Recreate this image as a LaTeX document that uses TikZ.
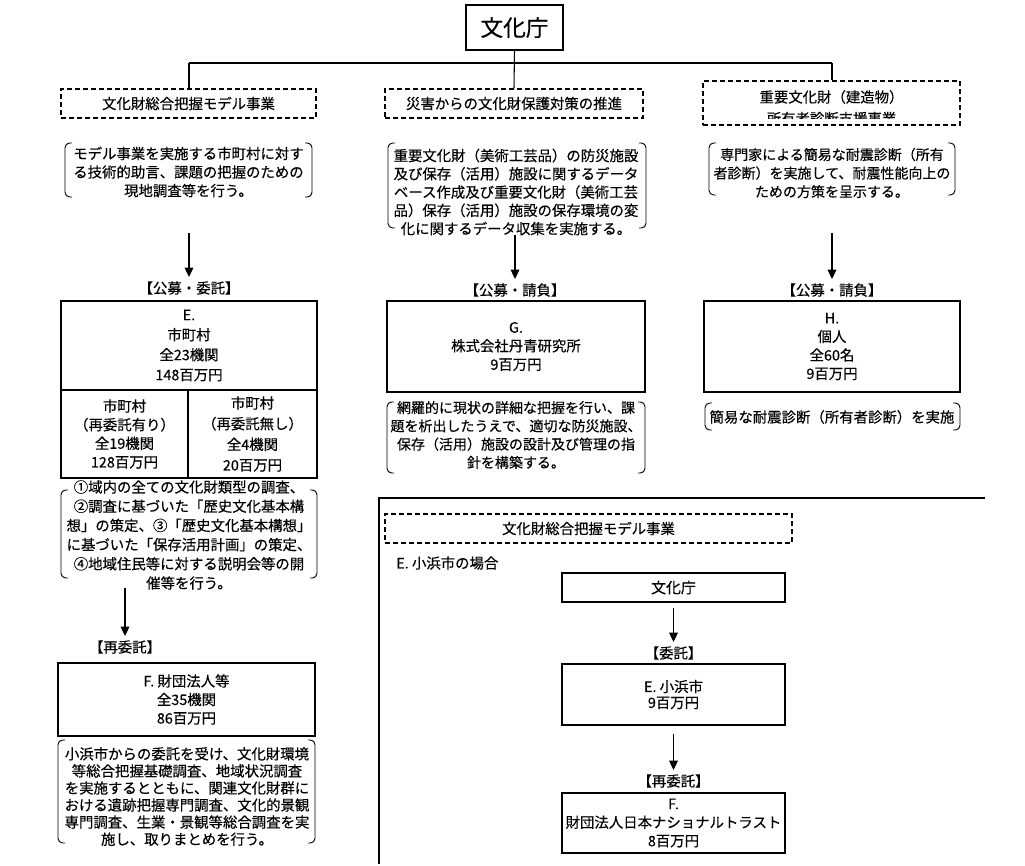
\documentclass[tikz,border=0pt]{standalone}
\usepackage{fontspec}
\setmainfont{Noto Sans CJK JP}[FakeBold=0.35]
\usetikzlibrary{arrows.meta,fit}
\newcommand\brpair[4]{%
  \draw[brk] (#1+7,#2) -- (#1,#2) -- (#1,#4) -- (#1+7,#4);
  \draw[brk] (#3-7,#2) -- (#3,#2) -- (#3,#4) -- (#3-7,#4);}
\begin{document}
\begin{tikzpicture}[x=0.75pt,y=-0.75pt,
  every node/.style={font=\fontsize{10.8}{13.9}\selectfont, align=center, inner sep=0pt},
  solidbox/.style={draw, line width=0.9pt, inner sep=0pt},
  dashbox/.style={draw, line width=0.9pt, dash pattern=on 3.5pt off 2.5pt, inner sep=0pt},
  conn/.style={line width=0.8pt},
  arr/.style={line width=0.8pt, -{Triangle[length=7pt,width=6.5pt]}},
  brk/.style={line width=0.7pt, rounded corners=3.5pt},
]
\useasboundingbox (0,0) rectangle (1025,866);

% ---- top
\node[solidbox, fit={(466,5)(563,50)}] (bunka) {};
\node[font=\fontsize{17}{18}\selectfont] (bunkaT) at (bunka.center) {文化庁};
\coordinate (hl) at (189,63);
\coordinate (hr) at (832,63);
\draw[line width=1.5pt] (hl) -- (hr);

\node[dashbox, fit={(61,89)(316,118)}] (d1) {};
\node (d1T) at (d1.center) {文化財総合把握モデル事業};
\node[dashbox, fit={(385,89)(643,118)}] (d2) {};
\node (d2T) at (d2.center) {災害からの文化財保護対策の推進};
\node[dashbox, fit={(703,81)(960,125)}] (d3) {};
\node (d3a) at (831.5,97) {重要文化財（建造物）};
\begin{scope}
  \clip (703,81) rectangle (960,119);
  \node (d3b) at (831.5,118.5) {所有者診断支援事業};
\end{scope}

\draw[conn] (bunka.south) -- (d2.north);
\draw[conn] (hl) -- (hl |- d1.north);
\draw[conn] (hr) -- (hr |- d3.north);

% ---- descriptions
\node (t1) at (188.5,172) {モデル事業を実施する市町村に対す\\る技術的助言、課題の把握のための\\現地調査等を行う。};
\brpair{65}{143}{312}{197}
\node[font=\fontsize{10.8}{13.7}\selectfont] (t2) at (516,192) {重要文化財（美術工芸品）の防災施設\\及び保存（活用）施設に関するデータ\\ベース作成及び重要文化財（美術工芸\\品）保存（活用）施設の保存環境の変\\化に関するデータ収集を実施する。};
\brpair{388}{143}{646}{228}
\node[font=\fontsize{10.5}{13.9}\selectfont] (t3) at (832,173) {専門家による簡易な耐震診断（所有\\者診断）を実施して、耐震性能向上の\\ための方策を呈示する。};
\brpair{709}{143}{955}{195}

% ---- arrows to labels
\coordinate (a1) at (189,233);
\coordinate (a2) at (515,235);
\coordinate (a3) at (832,233);
\node (lab1) at (189,288) {【公募・委託】};
\node (lab2) at (515,290) {【公募・請負】};
\node (lab3) at (832,290) {【公募・請負】};
\draw[arr, shorten >=3pt] (a1) -- (lab1);
\draw[arr, shorten >=3pt] (a2) -- (lab2);
\draw[arr, shorten >=3pt] (a3) -- (lab3);

% ---- E boxes
\node[solidbox, fit={(61,301)(317,390)}] (Etop) {};
\node[font=\fontsize{10.8}{15}\selectfont] (EtopT) at (Etop.center) {E.\\市町村\\全23機関\\148百万円};
\node[solidbox, fit={(61,390)(188,478)}] (Eleft) {};
\node[font=\fontsize{10.8}{14}\selectfont] (EleftT) at (Eleft.center) {市町村\\（再委託有り）\\全19機関\\128百万円};
\node[solidbox, fit={(188,390)(317,478)}] (Eright) {};
\node[font=\fontsize{10.8}{15.5}\selectfont] (ErightT) at (Eright.center) {市町村\\（再委託無し）\\全4機関\\20百万円};

\node[font=\fontsize{10.8}{14.4}\selectfont] (t4) at (189,535) {①域内の全ての文化財類型の調査、\\②調査に基づいた「歴史文化基本構\\想」の策定、③「歴史文化基本構想」\\に基づいた「保存活用計画」の策定、\\④地域住民等に対する説明会等の開\\催等を行う。};
\brpair{61}{490}{317}{578}

\coordinate (a4) at (125,588);
\node (lab4) at (125,647) {【再委託】};
\draw[arr, shorten >=3pt] (a4) -- (lab4);

\node[solidbox, fit={(58,663)(315,736)}] (F) {};
\node (FT) at (F.center) {F. 財団法人等\\全35機関\\86百万円};
\node[font=\fontsize{10.8}{12.8}\selectfont] (t5) at (187,796.5) {小浜市からの委託を受け、文化財環境\\等総合把握基礎調査、地域状況調査\\を実施するとともに、関連文化財群に\\おける遺跡把握専門調査、文化的景観\\専門調査、生業・景観等総合調査を実\\施し、取りまとめを行う。};
\brpair{58}{740}{315}{843}

% ---- G column
\node[solidbox, fit={(387,301)(645,392)}] (G) {};
\node (GT) at (G.center) {G.\\株式会社丹青研究所\\9百万円};
\node[font=\fontsize{10.5}{13.7}\selectfont] (t6) at (516,435) {網羅的に現状の詳細な把握を行い、課\\題を析出したうえで、適切な防災施設、\\保存（活用）施設の設計及び管理の指\\針を構築する。};
\brpair{387}{402}{645}{473}

% ---- H column
\node[solidbox, fit={(704,301)(960,392)}] (H) {};
\node (HT) at (H.center) {H.\\個人\\全60名\\9百万円};
\node (t7) at (832,417) {簡易な耐震診断（所有者診断）を実施};
\brpair{705}{403}{960}{430}

% ---- bottom panel
\coordinate (fr1) at (379,864);
\coordinate (fr2) at (379,498);
\coordinate (fr3) at (985,498);
\draw[line width=0.9pt] (fr1) -- (fr2) -- (fr3);
\node[dashbox, fit={(385,514)(792,543)}] (d4) {};
\node (d4T) at (d4.center) {文化財総合把握モデル事業};
\node[anchor=west] (case) at (396,563) {E. 小浜市の場合};
\node[solidbox, fit={(562,573)(785,602)}] (bunka2) {};
\node[font=\fontsize{11.2}{13}\selectfont] (bunka2T) at (bunka2.center) {文化庁};
\node (lab5) at (673.5,653) {【委託】};
\node[solidbox, fit={(562,664)(785,725)}] (E2) {};
\node[font=\fontsize{10.8}{12}\selectfont] (E2T) at (E2.center) {E. 小浜市\\9百万円};
\node (lab6) at (673.5,781) {【再委託】};
\node[solidbox, fit={(562,793)(785,853)}] (F2) {};
\node (F2T) at (F2.center) {F.\\財団法人日本ナショナルトラスト\\8百万円};
\draw[arr, shorten <=4pt, shorten >=3pt] (bunka2) -- (lab5);
\draw[arr, shorten <=6pt, shorten >=3pt] (E2) -- (lab6);
\end{tikzpicture}
\end{document}
